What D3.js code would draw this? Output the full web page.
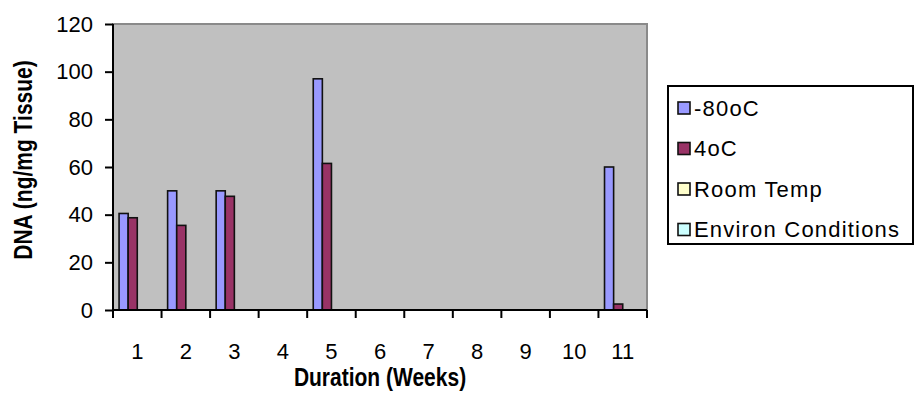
<!DOCTYPE html>
<html>
<head>
<meta charset="utf-8">
<script src="https://cdn.jsdelivr.net/npm/d3@7"></script>
<style>
  body { margin: 0; background: #fff; }
  text { font-family: "Liberation Sans", Arial, sans-serif; fill: #000; }
</style>
</head>
<body>
<svg width="915" height="405"></svg>
<script>
var svg = d3.select("svg");

// chart data
var weeks = ["1", "2", "3", "4", "5", "6", "7", "8", "9", "10", "11"];
var seriesNames = ["-80oC", "4oC", "Room Temp", "Environ Conditions"];
var seriesColours = ["#9999ff", "#993366", "#ffffcc", "#ccffff"];
var minus80 = [40.5, 50, 50, null, 97, null, null, null, null, null, 60];
var four = [38.7, 35.5, 47.7, null, 61.5, null, null, null, null, null, 2.5];
var roomTemp = [null, null, null, null, null, null, null, null, null, null, null];
var environ = [null, null, null, null, null, null, null, null, null, null, null];
var yTicks = [0, 20, 40, 60, 80, 100, 120];

var allSeries = [minus80, four, roomTemp, environ];

var plotLeft = 113, plotRight = 647, plotTop = 24, plotBottom = 310;

var x0 = d3.scaleBand()
    .domain(weeks)
    .range([plotLeft, plotRight]);

var x1 = d3.scaleBand()
    .domain(seriesNames)
    .range([x0.bandwidth() * 0.125, x0.bandwidth() * 0.875]);

var y = d3.scaleLinear()
    .domain([0, 120])
    .range([plotBottom, plotTop]);

// plot area
svg.append("rect")
    .attr("x", plotLeft)
    .attr("y", plotTop)
    .attr("width", plotRight - plotLeft)
    .attr("height", plotBottom - plotTop)
    .attr("fill", "#c0c0c0")
    .attr("stroke", "#8a8a8a")
    .attr("stroke-width", 2);

// bars
var rows = [];
allSeries.forEach(function(vals, s) {
  vals.forEach(function(v, i) {
    if (v != null) rows.push({ week: weeks[i], series: seriesNames[s], colour: seriesColours[s], value: v });
  });
});

svg.append("g")
  .selectAll("rect")
  .data(rows)
  .enter().append("rect")
    .attr("x", function(d) { return x0(d.week) + x1(d.series); })
    .attr("y", function(d) { return y(d.value); })
    .attr("width", x1.bandwidth())
    .attr("height", function(d) { return y(0) - y(d.value); })
    .attr("fill", function(d) { return d.colour; })
    .attr("stroke", "#111")
    .attr("stroke-width", 1.6);

// y axis
var yAxis = svg.append("g")
    .attr("transform", "translate(" + plotLeft + ",0)")
    .call(d3.axisLeft(y).tickValues(yTicks).tickSize(8).tickPadding(12));

// x axis: ticks on category boundaries, labels in the middle
var xAxis = svg.append("g")
    .attr("transform", "translate(0," + plotBottom + ")")
    .call(d3.axisBottom(x0).tickSize(0).tickPadding(33));

var bounds = weeks.map(function(w) { return x0(w); }).concat([plotRight]);
xAxis.selectAll(".bound")
  .data(bounds)
  .enter().append("line")
    .attr("class", "bound")
    .attr("x1", function(d) { return d; })
    .attr("x2", function(d) { return d; })
    .attr("y1", 0)
    .attr("y2", 8)
    .attr("stroke", "#000")
    .attr("stroke-width", 2);

[yAxis, xAxis].forEach(function(g) {
  g.select(".domain").attr("stroke", "#000").attr("stroke-width", 2);
  g.selectAll(".tick line").attr("stroke", "#000").attr("stroke-width", 2);
  g.selectAll(".tick text")
      .style("font-family", "'Liberation Sans', Arial, sans-serif")
      .style("font-size", "22px")
      .attr("fill", "#000");
});
yAxis.select(".domain").attr("d", "M0," + plotTop + "V" + plotBottom);
xAxis.select(".domain").attr("d", "M" + plotLeft + ",0H" + plotRight);

// axis titles (the original lettering is tall and narrow)
svg.append("text")
    .attr("transform", "translate(23,160) rotate(-90) scale(1,1.2)")
    .attr("text-anchor", "middle")
    .attr("dy", "0.35em")
    .style("font-size", "21px")
    .style("font-weight", "bold")
    .text("DNA (ng/mg Tissue)");

svg.append("text")
    .attr("transform", "translate(" + ((plotLeft + plotRight) / 2) + ",377) scale(1,1.2)")
    .attr("text-anchor", "middle")
    .attr("dy", "0.35em")
    .style("font-size", "21px")
    .style("font-weight", "bold")
    .text("Duration (Weeks)");

// legend
var legend = svg.append("g");
legend.append("rect")
    .attr("x", 668)
    .attr("y", 86)
    .attr("width", 245)
    .attr("height", 158)
    .attr("fill", "#fff")
    .attr("stroke", "#000")
    .attr("stroke-width", 2);

var items = legend.selectAll(".item")
  .data(seriesNames)
  .enter().append("g")
    .attr("class", "item")
    .attr("transform", function(d, i) { return "translate(678," + (108 + i * 40.5) + ")"; });

items.append("rect")
    .attr("x", 0)
    .attr("y", -6)
    .attr("width", 12)
    .attr("height", 12)
    .attr("fill", function(d, i) { return seriesColours[i]; })
    .attr("stroke", "#111")
    .attr("stroke-width", 1.6);

items.append("text")
    .attr("x", 16)
    .attr("dy", "0.35em")
    .style("font-size", "22px")
    .style("letter-spacing", "1.2px")
    .text(function(d) { return d; });
</script>
</body>
</html>
